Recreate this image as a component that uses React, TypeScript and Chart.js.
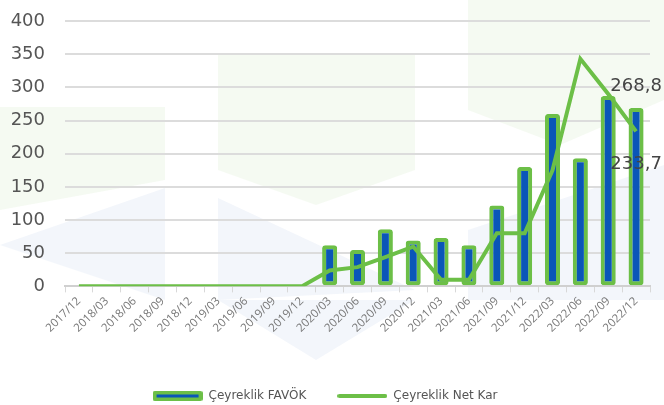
import React, { useEffect, useRef } from "react";
import { Chart, registerables } from "chart.js";

Chart.register(...registerables);

const labels = [
  "2017/12", "2018/03", "2018/06", "2018/09", "2018/12", "2019/03", "2019/06",
  "2019/09", "2019/12", "2020/03", "2020/06", "2020/09", "2020/12", "2021/03",
  "2021/06", "2021/09", "2021/12", "2022/03", "2022/06", "2022/09", "2022/12",
];
const favok = [
  null, null, null, null, null, null, null, null, null,
  62, 55, 86, 69, 73, 62, 122, 180, 260, 193, 287, 268.8,
];
const netKar = [
  0, 0, 0, 0, 0, 0, 0, 0, 0,
  24, 29, 44, 60, 10, 10, 80, 80, 175, 343, 290, 233.7,
];
const yTicks = [0, 50, 100, 150, 200, 250, 300, 350, 400];

const GREEN = "#6cbf47";
const BLUE = "#0a56b8";
const FONT = "'DejaVu Sans', 'Noto Sans', sans-serif";

function makeSwatch(kind: "bar" | "line") {
  const c = document.createElement("canvas");
  c.width = 50;
  c.height = 12;
  const ctx = c.getContext("2d")!;
  if (kind === "bar") {
    ctx.fillStyle = GREEN;
    ctx.beginPath();
    (ctx as any).roundRect(0, 1, 50, 10, 2);
    ctx.fill();
    ctx.fillStyle = BLUE;
    ctx.fillRect(4, 4.5, 42, 3);
  } else {
    ctx.strokeStyle = GREEN;
    ctx.lineWidth = 4;
    ctx.lineCap = "round";
    ctx.beginPath();
    ctx.moveTo(2, 6);
    ctx.lineTo(48, 6);
    ctx.stroke();
  }
  return c;
}

const watermark = {
  id: "watermark",
  beforeDraw(chart: any) {
    const ctx = chart.ctx;
    ctx.save();
    ctx.fillStyle = "rgba(108,191,71,0.07)";
    const polys: number[][][] = [
      [[0, 107], [165, 107], [165, 180], [0, 210]],
      [[218, 55], [415, 55], [415, 170], [316, 205], [218, 170]],
      [[468, 0], [664, 0], [664, 100], [560, 145], [468, 110]],
    ];
    polys.forEach((p) => {
      ctx.beginPath();
      p.forEach(([x, y], i) => (i ? ctx.lineTo(x, y) : ctx.moveTo(x, y)));
      ctx.closePath();
      ctx.fill();
    });
    ctx.fillStyle = "rgba(10,86,184,0.05)";
    const blue: number[][][] = [
      [[0, 245], [165, 188], [165, 300]],
      [[218, 198], [415, 290], [218, 300]],
      [[218, 300], [415, 300], [316, 360]],
      [[468, 230], [664, 165], [664, 300], [468, 300]],
    ];
    blue.forEach((p) => {
      ctx.beginPath();
      p.forEach(([x, y], i) => (i ? ctx.lineTo(x, y) : ctx.moveTo(x, y)));
      ctx.closePath();
      ctx.fill();
    });
    ctx.restore();
  },
};

const valueLabels = {
  id: "valueLabels",
  afterDatasetsDraw(chart: any) {
    const ctx = chart.ctx;
    ctx.save();
    ctx.font = `18px ${FONT}`;
    ctx.fillStyle = "#444";
    ctx.textAlign = "center";
    ctx.textBaseline = "middle";
    const last = labels.length - 1;
    const bar = chart.getDatasetMeta(0).data[last];
    const pt = chart.getDatasetMeta(1).data[last];
    ctx.fillText(String(favok[last]).replace(".", ","), bar.x, bar.y - 22);
    ctx.fillText(String(netKar[last]).replace(".", ","), pt.x, pt.y + 33);
    ctx.restore();
  },
};

export default function App() {
  const ref = useRef<HTMLCanvasElement>(null);
  useEffect(() => {
    const chart = new Chart(ref.current!, {
      type: "bar",
      data: {
        labels,
        datasets: [
          {
            type: "bar",
            label: "Çeyreklik FAVÖK",
            data: favok as any,
            backgroundColor: BLUE,
            borderColor: GREEN,
            borderWidth: 4,
            borderRadius: 3,
            borderSkipped: false,
            barPercentage: 0.54,
            categoryPercentage: 1,
            pointStyle: makeSwatch("bar") as any,
            order: 2,
          },
          {
            type: "line",
            label: "Çeyreklik Net Kar",
            data: netKar,
            borderColor: GREEN,
            backgroundColor: GREEN,
            borderWidth: 4,
            pointRadius: 0,
            tension: 0,
            pointStyle: makeSwatch("line") as any,
            order: 1,
          },
        ],
      },
      options: {
        responsive: false,
        animation: false,
        layout: { padding: { left: 0, right: 14, top: 21, bottom: -7 } },
        plugins: {
          legend: {
            position: "bottom",
            labels: {
              usePointStyle: true,
              pointStyleWidth: 50,
              boxHeight: 12,
              padding: 31,
              color: "#555",
              font: { family: FONT, size: 12 },
              sort: (a: any, b: any) => a.datasetIndex - b.datasetIndex,
            },
          },
          tooltip: { enabled: false },
        },
        scales: {
          x: {
            offset: true,
            afterFit: (axis: any) => {
              axis.paddingLeft = 0;
              axis.paddingRight = 0;
              axis.height += 22;
            },
            grid: {
              display: true,
              drawOnChartArea: false,
              drawTicks: true,
              tickLength: 6,
              color: "#d8d8d8",
              lineWidth: 1,
            },
            border: { display: true, color: "#d0d0d0", width: 2 },
            ticks: {
              color: "#777",
              font: { family: "'Open Sans', sans-serif", size: 11.5 },
              maxRotation: 45,
              minRotation: 45,
              autoSkip: false,
              padding: 2,
            },
          },
          y: {
            min: 0,
            max: 400,
            afterBuildTicks: (axis: any) => {
              axis.ticks = yTicks.map((v) => ({ value: v }));
            },
            afterFit: (axis: any) => {
              axis.width = 65;
              axis.paddingTop = 0;
              axis.paddingBottom = 0;
            },
            grid: { color: "#dcdcdc", lineWidth: 2, drawTicks: false },
            border: { display: false },
            ticks: {
              color: "#555",
              font: { family: FONT, size: 18 },
              padding: 20,
            },
          },
        },
      },
      plugins: [watermark, valueLabels],
    });
    return () => chart.destroy();
  }, []);
  return (
    <div style={{ position: "fixed", left: 0, top: 0, width: 664, height: 405, background: "#fff" }}>
      <canvas ref={ref} width={664} height={405} />
    </div>
  );
}
